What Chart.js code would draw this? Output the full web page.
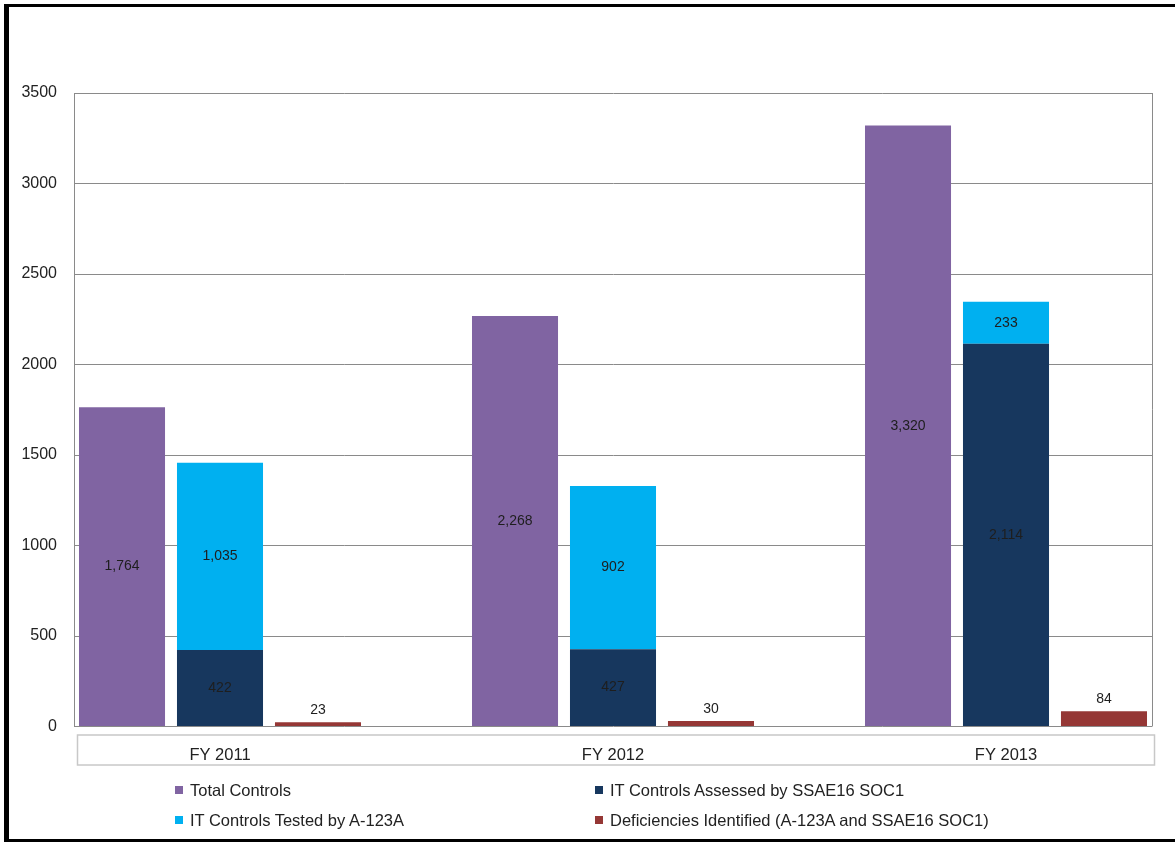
<!DOCTYPE html>
<html>
<head>
<meta charset="utf-8">
<script src="https://cdn.jsdelivr.net/npm/chart.js@4.4.1/dist/chart.umd.min.js"></script>
<style>
    body { margin: 0; background: #fff; width: 1175px; height: 842px; overflow: hidden; position: relative; font-family: "Liberation Sans", Arial, sans-serif; }
    #frame { position: absolute; left: 4px; top: 4px; width: 1200px; height: 832px; border-left: 5px solid #000; border-top: 3px solid #000; border-bottom: 3px solid #000; }
    #chart { position: absolute; left: 0; top: 0; }
    .lg { position: absolute; font-size: 16.5px; color: #222; line-height: 20px; white-space: nowrap; }
    .lg i { position: absolute; left: -15px; top: 6px; width: 8px; height: 8px; }
</style>
</head>
<body>
<div id="frame"></div>
<canvas id="chart" width="1175" height="842"></canvas>
<div id="legend"></div>
<script>
// data
const categories = ['FY 2011', 'FY 2012', 'FY 2013'];
const totalControls = [1764, 2268, 3320];
const assessedSoc1 = [422, 427, 2114];
const testedA123 = [1035, 902, 233];
const deficiencies = [23, 30, 84];
const yTicks = [0, 500, 1000, 1500, 2000, 2500, 3000, 3500];

const seriesNames = ['Total Controls', 'IT Controls Assessed by SSAE16 SOC1', 'IT Controls Tested by A-123A', 'Deficiencies Identified (A-123A and SSAE16 SOC1)'];
const seriesColors = ['#8064A2', '#17375E', '#00B0F0', '#953735'];

function pts(arr) {
    return arr.map(function (v, i) { return { x: i, y: v }; });
}

function ds(idx, arr, stack) {
    return {
        label: seriesNames[idx],
        data: pts(arr),
        backgroundColor: seriesColors[idx],
        borderWidth: 0,
        stack: stack,
        categoryPercentage: 0.748,
        barPercentage: 0.878
    };
}

// labels inside bars, the small red ones sit above
const valueLabels = {
    id: 'valueLabels',
    afterDatasetsDraw: function (chart) {
        const ctx = chart.ctx;
        ctx.save();
        ctx.font = '14px "Liberation Sans", Arial, sans-serif';
        ctx.fillStyle = '#1e1e1e';
        ctx.textAlign = 'center';
        ctx.textBaseline = 'middle';
        chart.data.datasets.forEach(function (d, di) {
            const meta = chart.getDatasetMeta(di);
            meta.data.forEach(function (bar, i) {
                const p = bar.getProps(['x', 'y', 'base'], true);
                const txt = d.data[i].y.toLocaleString('en-US');
                if (d.stack === 'def') {
                    ctx.fillText(txt, p.x, p.y - 12);
                } else {
                    ctx.fillText(txt, p.x, (p.y + p.base) / 2);
                }
            });
        });
        ctx.restore();
    }
};

// plot frame right edge + box around category labels
const frameBits = {
    id: 'frameBits',
    beforeDatasetsDraw: function (chart) {
        const a = chart.chartArea;
        const ctx = chart.ctx;
        ctx.save();
        ctx.strokeStyle = '#8a8a8a';
        ctx.lineWidth = 1;
        ctx.beginPath();
        ctx.moveTo(Math.round(a.right) + 0.5, a.top);
        ctx.lineTo(Math.round(a.right) + 0.5, a.bottom);
        ctx.stroke();
        ctx.strokeStyle = '#c8c8c8';
        ctx.lineWidth = 1.5;
        ctx.strokeRect(a.left + 3.5, Math.round(a.bottom) + 8, a.right - a.left - 1, 30);
        ctx.restore();
    }
};

const chart = new Chart(document.getElementById('chart'), {
    type: 'bar',
    data: {
        datasets: [
            ds(0, totalControls, 'total'),
            ds(1, assessedSoc1, 'it'),
            ds(2, testedA123, 'it'),
            ds(3, deficiencies, 'def')
        ]
    },
    options: {
        responsive: false,
        animation: false,
        layout: { padding: { left: 0, right: 23, top: 93, bottom: 65.5 } },
        plugins: {
            legend: { display: false },
            tooltip: { enabled: false }
        },
        scales: {
            x: {
                type: 'linear',
                min: -0.3715,
                max: 2.3715,
                offset: false,
                grid: { display: false },
                border: { display: false },
                afterBuildTicks: function (scale) {
                    scale.ticks = categories.map(function (c, i) { return { value: i }; });
                },
                afterFit: function (scale) { scale.height = 50; },
                ticks: {
                    padding: 11,
                    color: '#222',
                    font: { family: '"Liberation Sans", Arial, sans-serif', size: 16.5 },
                    maxRotation: 0,
                    callback: function (v) { return categories[v]; }
                }
            },
            y: {
                stacked: true,
                min: 0,
                max: 3500,
                afterBuildTicks: function (scale) {
                    scale.ticks = yTicks.map(function (v) { return { value: v }; });
                },
                afterFit: function (scale) { scale.width = 74; },
                grid: { color: '#8a8a8a', lineWidth: 1, drawTicks: false },
                border: { display: true, color: '#8a8a8a', width: 1 },
                ticks: {
                    padding: 17,
                    color: '#222',
                    font: { family: '"Liberation Sans", Arial, sans-serif', size: 16 },
                    callback: function (v) { return String(v); }
                }
            }
        }
    },
    plugins: [frameBits, valueLabels]
});

// two-column legend like the original
const legendPos = [[190, 780], [610, 780], [190, 810], [610, 810]];
const lg = document.getElementById('legend');
seriesNames.forEach(function (name, i) {
    const el = document.createElement('div');
    el.className = 'lg';
    el.style.left = legendPos[i][0] + 'px';
    el.style.top = legendPos[i][1] + 'px';
    el.innerHTML = '<i style="background:' + seriesColors[i] + '"></i>' + name;
    lg.appendChild(el);
});
</script>
</body>
</html>
